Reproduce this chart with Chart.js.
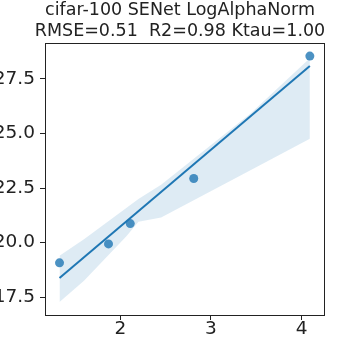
<!DOCTYPE html>
<html>
<head>
<meta charset="utf-8">
<script src="https://cdn.jsdelivr.net/npm/chart.js@4/dist/chart.umd.min.js"></script>
<style>
	html, body { margin: 0; padding: 0; background: #fff; }
	#wrap { width: 360px; height: 360px; }
</style>
</head>
<body>
<div id="wrap"><canvas id="chart"></canvas></div>
<script>
// measured points
const pointsX = [1.33, 1.87, 2.11, 2.81, 4.09];
const pointsY = [19.07, 19.94, 20.87, 22.94, 28.55];

// fitted line (ends)
const fitX = [1.33, 4.09];
const fitY = [18.38, 28.1];

// confidence band
const bandX = [1.33, 1.6, 2.07, 2.2, 2.45, 3.43, 4.09];
const bandUpper = [19.4, 20.15, 21.6, 22.0, 22.65, 25.9, 28.45];
const bandLower = [17.28, 18.25, 20.3, 20.95, 21.15, 23.3, 24.76];

const xTicks = [2, 3, 4];
const yTicks = [17.5, 20.0, 22.5, 25.0, 27.5];

const titleLines = ['cifar-100 SENet LogAlphaNorm', 'RMSE=0.51  R2=0.98 Ktau=1.00'];

const toXY = (xs, ys) => xs.map((x, i) => ({ x: x, y: ys[i] }));

const ink = '#222';
const font = { family: 'DejaVu Sans', size: 18.5, lineHeight: 1 };

const edgeAxis = (position, fit) => ({
	type: 'linear',
	position: position,
	grid: { display: false },
	border: { display: true, color: ink, width: 1 },
	ticks: { display: false },
	afterFit: fit
});

new Chart(document.getElementById('chart'), {
	type: 'scatter',
	data: {
		datasets: [
			{
				data: toXY(pointsX, pointsY),
				backgroundColor: 'rgba(31,119,180,0.8)',
				borderWidth: 0,
				pointRadius: 4.5
			},
			{
				type: 'line',
				data: toXY(fitX, fitY),
				borderColor: '#1f77b4',
				borderWidth: 2,
				pointRadius: 0,
				fill: false
			},
			{
				type: 'line',
				data: toXY(bandX, bandUpper),
				borderWidth: 0,
				pointRadius: 0,
				backgroundColor: 'rgba(31,119,180,0.15)',
				fill: '+1'
			},
			{
				type: 'line',
				data: toXY(bandX, bandLower),
				borderWidth: 0,
				pointRadius: 0,
				fill: false
			}
		]
	},
	options: {
		responsive: true,
		maintainAspectRatio: false,
		animation: false,
		layout: { padding: 0 },
		plugins: {
			legend: { display: false },
			tooltip: { enabled: false },
			title: {
				display: true,
				text: titleLines,
				color: ink,
				font: { family: 'DejaVu Sans', size: 17.5, weight: 'normal', lineHeight: 1.2 },
				padding: { top: 0, bottom: 1 }
			}
		},
		scales: {
			x: {
				type: 'linear',
				min: 1.17,
				max: 4.246,
				grid: { drawOnChartArea: false, drawTicks: true, tickLength: 5, color: ink },
				border: { display: true, color: ink, width: 1 },
				ticks: { color: ink, font: font, padding: 0 },
				afterBuildTicks: (axis) => { axis.ticks = xTicks.map((v) => ({ value: v })); },
				afterFit: (axis) => { axis.height = 45; }
			},
			y: {
				type: 'linear',
				min: 16.68,
				max: 29.15,
				grid: { drawOnChartArea: false, drawTicks: true, tickLength: 5, color: ink },
				border: { display: true, color: ink, width: 1 },
				ticks: { color: ink, font: font, padding: 5, callback: (v) => v.toFixed(1) },
				afterBuildTicks: (axis) => { axis.ticks = yTicks.map((v) => ({ value: v })); },
				afterFit: (axis) => { axis.width = 45; }
			},
			x2: edgeAxis('top', (axis) => { axis.height = 0; }),
			y2: edgeAxis('right', (axis) => { axis.width = 36; })
		}
	}
});
</script>
</body>
</html>
